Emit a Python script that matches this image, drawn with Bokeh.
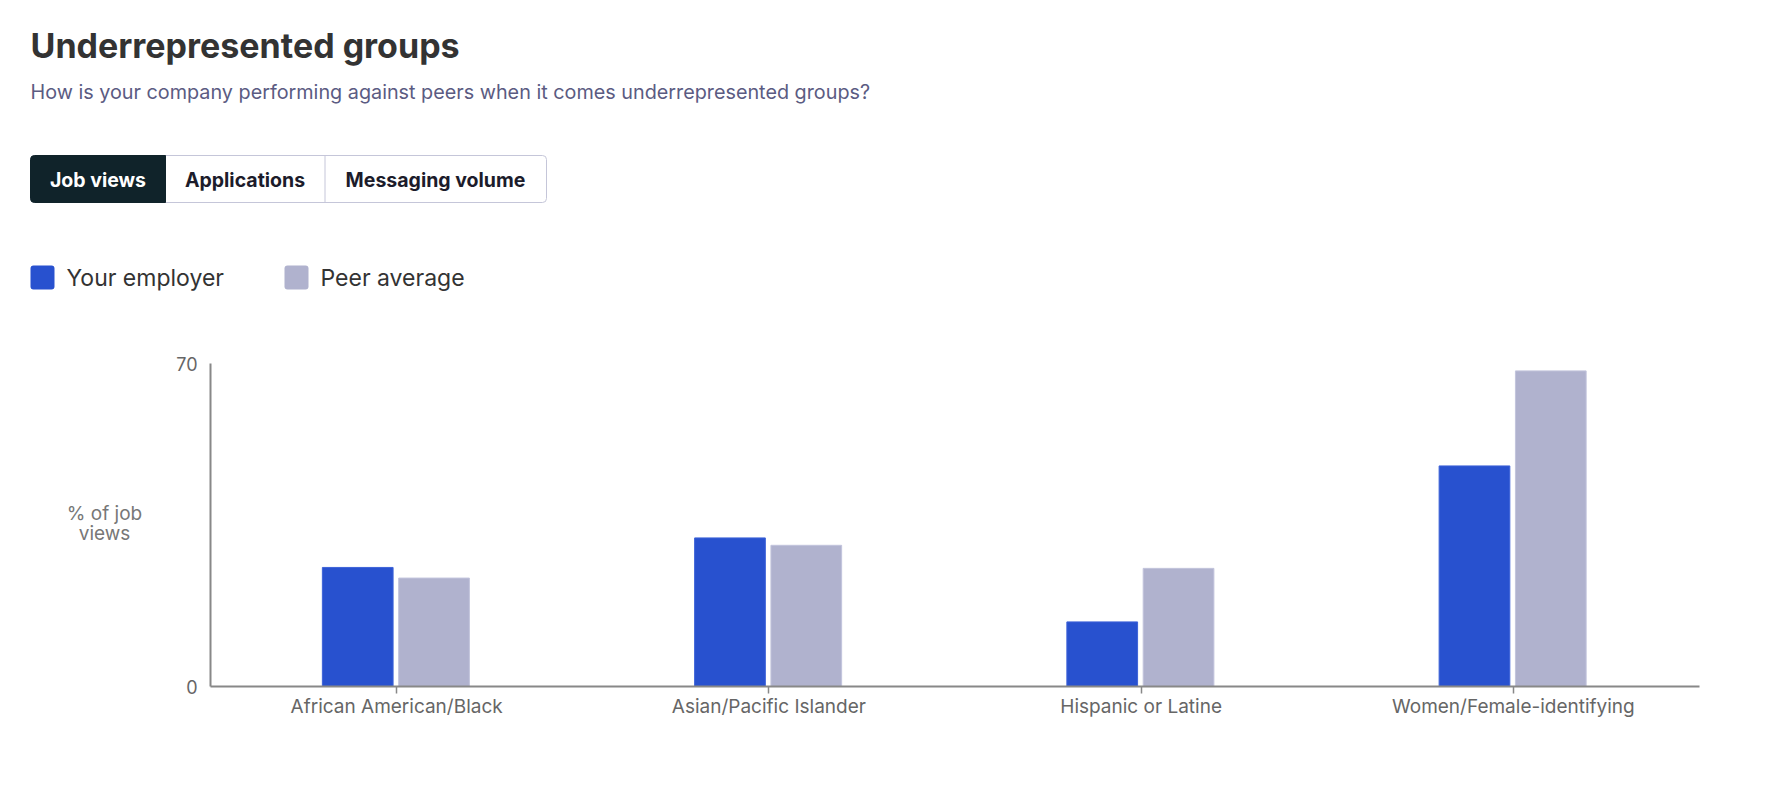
from bokeh.plotting import figure
from bokeh.layouts import column, row
from bokeh.models import FactorRange, Range1d, FixedTicker, ColumnDataSource
from bokeh.transform import dodge
from bokeh.core.properties import value
from bokeh.embed import file_html
from bokeh.resources import INLINE

# ---- data ----
categories = ["African American/Black", "Asian/Pacific Islander",
              "Hispanic or Latine", "Women/Female-identifying"]
your_employer = [25.8, 32.2, 14.0, 47.8]
peer_average = [23.5, 30.6, 25.6, 68.4]
y_ticks = [0, 70]
series_names = ["Your employer", "Peer average"]
tab_labels = ["Job views", "Applications", "Messaging volume"]
title_text = "Underrepresented groups"
subtitle_text = "How is your company performing against peers when it comes underrepresented groups?"
y_label_lines = ["% of job", "views"]

BLUE = "#2851CF"
GRAY = "#B0B2CE"
FONT = "Inter"
W, H_TOP, H_BOT = 1772, 330, 458
LEFT_W = 170
FRAME_TOP, FRAME_BOT = 363, 686          # canvas pixels of the plot frame
MB_TOP = FRAME_TOP - H_TOP
MB_BOT = H_TOP + H_BOT - FRAME_BOT


def pixel_fig(width, height, y_top, y_bot, mb_top=0, mb_bot=0):
    f = figure(width=width, height=height,
               x_range=Range1d(0, width), y_range=Range1d(y_bot, y_top),
               x_axis_type=None, y_axis_type=None,
               output_backend="svg", toolbar_location=None,
               min_border=0, min_border_top=mb_top, min_border_bottom=mb_bot,
               title=None)
    f.outline_line_color = None
    f.xgrid.visible = False
    f.ygrid.visible = False
    f.border_fill_color = "white"
    f.background_fill_color = "white"
    return f


# ---- header (title, subtitle, tabs, legend) ----
hdr = pixel_fig(W, H_TOP, 0, H_TOP)
hdr.text(x=[30], y=[45], text=[title_text], text_font=value(FONT),
         text_font_size="34px", text_font_style="bold", text_color="#333333",
         text_baseline="middle", text_align="left")
hdr.text(x=[30], y=[91], text=[subtitle_text], text_font=value(FONT),
         text_font_size="19.8px", text_color="#5B5B82",
         text_baseline="middle", text_align="left")

# tabs
hdr.quad(left=[30], right=[546], top=[155], bottom=[202], fill_color="white",
         line_color="#C5C6D9", line_width=1, border_radius=4)
hdr.quad(left=[30], right=[165], top=[155], bottom=[202], fill_color="#10232A",
         line_color="#10232A", line_width=1, border_radius=(4, 0, 0, 4))
hdr.segment(x0=[324.5], y0=[155], x1=[324.5], y1=[202], line_color="#C5C6D9", line_width=1)
tab_centers = [97.5, 244.5, 435]
tab_colors = ["white", "#1C1C2B", "#1C1C2B"]
hdr.text(x=tab_centers, y=[179] * 3, text=tab_labels, text_font=value(FONT),
         text_font_size="19.5px", text_font_style="bold", text_color=tab_colors,
         text_baseline="middle", text_align="center")

# legend
leg_x = [30, 284]
leg_colors = [BLUE, GRAY]
hdr.quad(left=leg_x, right=[x + 24 for x in leg_x], top=[265] * 2, bottom=[289] * 2,
         fill_color=leg_colors, line_color=None, border_radius=3)
hdr.text(x=[x + 36 for x in leg_x], y=[277] * 2, text=series_names,
         text_font=value(FONT), text_font_size="23px", text_color="#333333",
         text_baseline="middle", text_align="left")

# ---- left strip (y-axis title) ----
lft = pixel_fig(LEFT_W, H_BOT, FRAME_TOP, FRAME_BOT, MB_TOP, MB_BOT)
lft.text(x=[104, 104], y=[513, 533], text=y_label_lines, text_font=value(FONT),
         text_font_size="19px", text_color="#777777",
         text_baseline="middle", text_align="center")

# ---- chart ----
source = ColumnDataSource(dict(cat=categories, emp=your_employer, peer=peer_average))

p = figure(width=W - LEFT_W, height=H_BOT,
           x_range=FactorRange(factors=categories, range_padding=0),
           y_range=Range1d(0, 70),
           output_backend="svg", toolbar_location=None, title=None,
           min_border_left=210 - LEFT_W, min_border_right=73,
           min_border_top=MB_TOP, min_border_bottom=MB_BOT)
p.outline_line_color = None
p.xgrid.visible = False
p.ygrid.visible = False
p.background_fill_color = "white"
p.border_fill_color = "white"

p.vbar(x=dodge("cat", -0.1045, range=p.x_range), top="emp", width=0.19,
       source=source, fill_color=BLUE, line_color="#3D62D8", line_width=1)
p.vbar(x=dodge("cat", 0.1005, range=p.x_range), top="peer", width=0.19,
       source=source, fill_color=GRAY, line_color="#C2C4DC", line_width=1)

ya = p.yaxis[0]
ya.ticker = FixedTicker(ticks=y_ticks)
ya.minor_tick_line_color = None
ya.major_tick_line_color = None
ya.axis_line_color = "#888888"
ya.axis_line_width = 2
ya.major_label_standoff = 7
ya.major_label_text_font = FONT
ya.major_label_text_font_size = "18px"
ya.major_label_text_color = "#666666"

xa = p.xaxis[0]
xa.axis_line_color = "#888888"
xa.axis_line_width = 2
xa.major_tick_line_color = "#888888"
xa.major_tick_line_width = 1.5
xa.major_tick_in = 0
xa.major_tick_out = 7
xa.major_label_standoff = 1
xa.major_label_text_font = FONT
xa.major_label_text_font_size = "19px"
xa.major_label_text_color = "#666666"

layout = column(hdr, row(lft, p, spacing=0), spacing=0)
open("out.html", "w").write(file_html(layout, INLINE))
